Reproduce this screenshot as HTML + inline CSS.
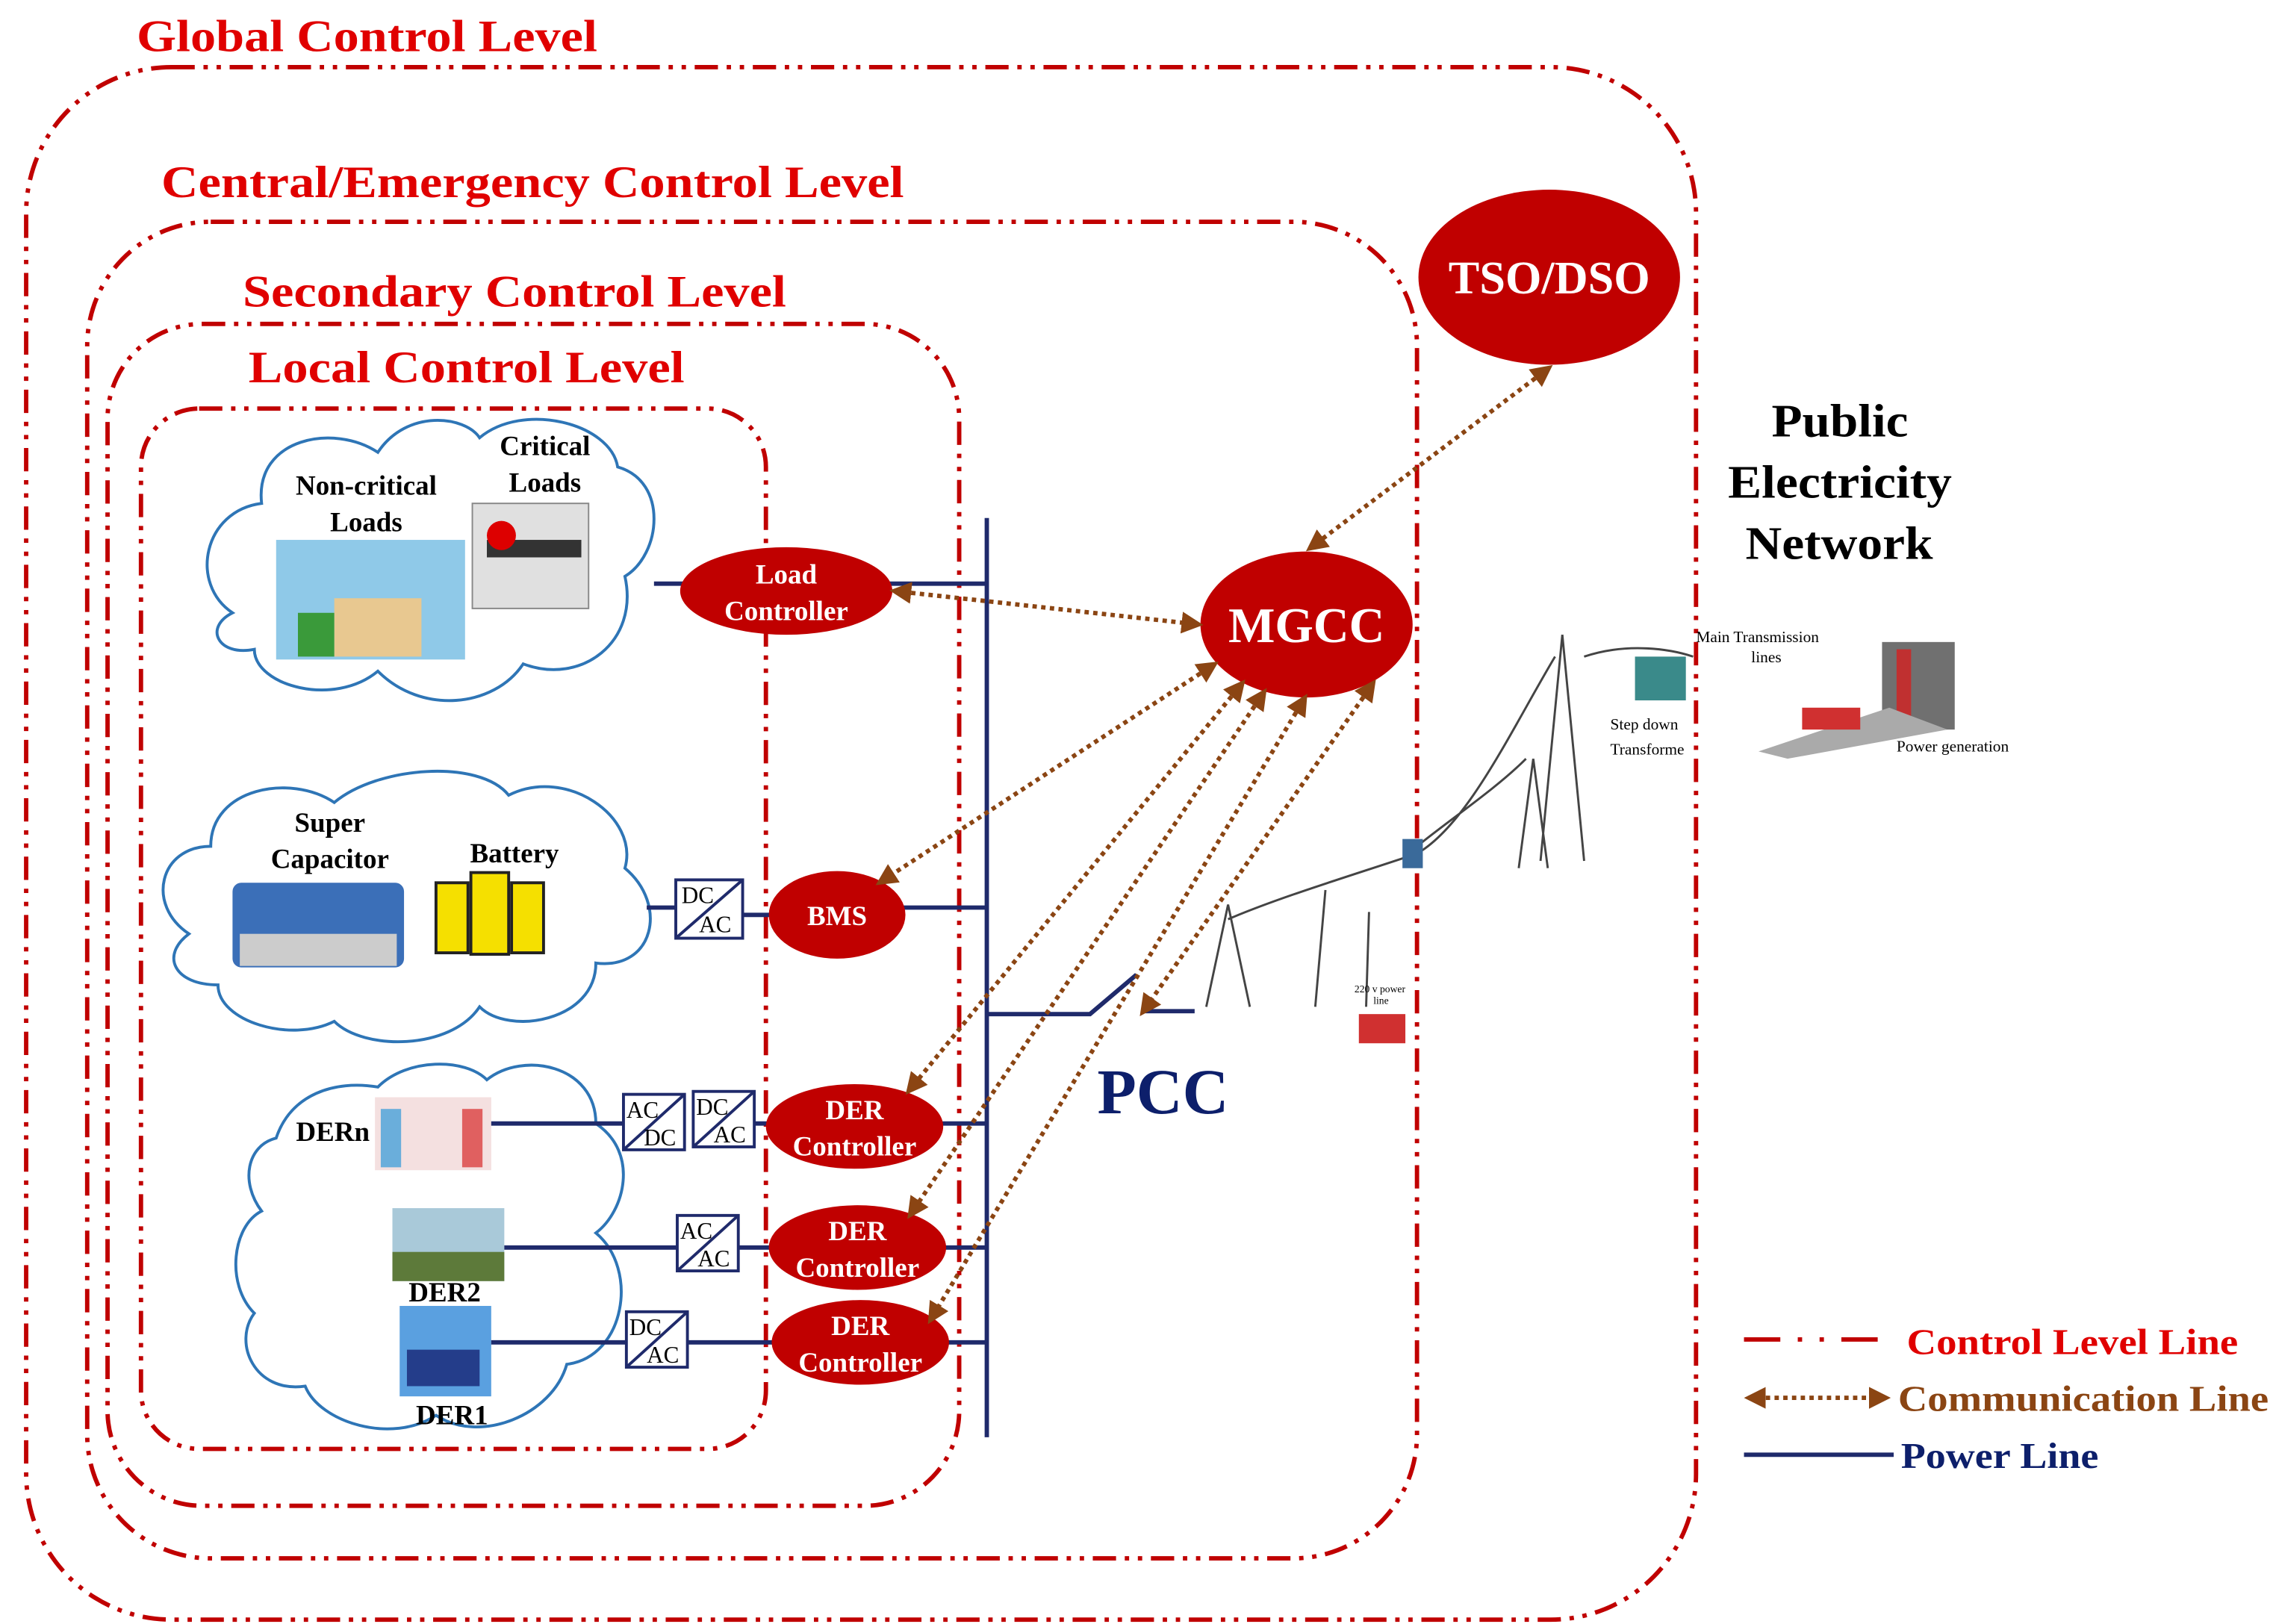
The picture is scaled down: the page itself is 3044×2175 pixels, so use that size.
<!DOCTYPE html>
<html><head><meta charset="utf-8"><style>html,body{margin:0;padding:0;background:#fff}svg{display:block}</style></head>
<body>
<svg width="3044" height="2175" viewBox="0 0 1564 1113" preserveAspectRatio="none" xmlns="http://www.w3.org/2000/svg" font-family="Liberation Serif, serif">
<defs>
<marker id="ah" viewBox="0 0 10 10" refX="8" refY="5" markerWidth="5" markerHeight="5" orient="auto-start-reverse"><path d="M0,0 L10,5 L0,10 z" fill="#8b4513"/></marker>
</defs>
<g fill="none" stroke="#c00000" stroke-width="3" stroke-dasharray="16,6,3,6,3,6">
<rect x="18" y="46" width="1149" height="1064" rx="100"/>
<rect x="60" y="152" width="915" height="916" rx="85"/>
<rect x="74" y="222" width="586" height="810" rx="65"/>
<rect x="97" y="280" width="430" height="713" rx="40"/>
</g>
<g fill="#e00000" font-weight="bold" font-size="31">
<text x="94" y="35" textLength="317" lengthAdjust="spacingAndGlyphs">Global Control Level</text>
<text x="111" y="135" textLength="511" lengthAdjust="spacingAndGlyphs">Central/Emergency Control Level</text>
<text x="167" y="210" textLength="374" lengthAdjust="spacingAndGlyphs">Secondary Control Level</text>
<text x="171" y="262" textLength="300" lengthAdjust="spacingAndGlyphs">Local Control Level</text>
</g>
<g font-weight="bold" font-size="32" fill="#000">
<text x="1219" y="299" textLength="94" lengthAdjust="spacingAndGlyphs">Public</text>
<text x="1189" y="341" textLength="154" lengthAdjust="spacingAndGlyphs">Electricity</text>
<text x="1201" y="383" textLength="129" lengthAdjust="spacingAndGlyphs">Network</text>
</g>
<g fill="#fff" stroke="#2e75b6" stroke-width="2">
<path d="M160,420 C130,400 140,350 180,345 C175,300 230,290 260,310 C280,280 320,285 330,300 C360,275 420,290 425,320 C460,330 455,380 430,395 C440,440 400,470 360,455 C340,485 290,490 260,460 C230,485 175,470 175,445 C150,450 140,430 160,420 Z"/>
<path d="M130,640 C100,620 110,580 145,580 C145,540 200,530 230,550 C260,525 330,520 350,545 C390,525 440,560 430,595 C460,620 450,665 410,660 C410,700 350,710 330,690 C310,720 250,720 230,700 C200,715 150,700 150,675 C120,675 110,655 130,640 Z"/>
<path d="M190,780 C200,750 230,740 260,745 C280,725 320,725 335,740 C360,720 410,730 410,770 C440,790 430,830 410,845 C440,870 430,930 390,935 C380,970 330,990 300,970 C270,990 220,975 210,950 C175,955 160,920 175,900 C155,880 160,840 180,830 C165,810 170,785 190,780 Z"/>
</g>
<rect x="190" y="370" width="130" height="82" fill="#8fc9e8"/>
<rect x="230" y="410" width="60" height="40" fill="#e8c890"/>
<rect x="205" y="420" width="25" height="30" fill="#3a9a3a"/>
<rect x="325" y="345" width="80" height="72" fill="#e0e0e0" stroke="#888"/>
<rect x="335" y="370" width="65" height="12" fill="#333"/>
<circle cx="345" cy="367" r="10" fill="#d00"/>
<rect x="160" y="605" width="118" height="58" rx="6" fill="#3b6fb8"/>
<rect x="165" y="640" width="108" height="22" fill="#ccc"/>
<rect x="300" y="605" width="22" height="48" fill="#f5e000" stroke="#222" stroke-width="2"/>
<rect x="324" y="598" width="26" height="56" fill="#f5e000" stroke="#222" stroke-width="2"/>
<rect x="352" y="605" width="22" height="48" fill="#f5e000" stroke="#222" stroke-width="2"/>
<rect x="258" y="752" width="80" height="50" fill="#f4e0e0"/>
<rect x="262" y="760" width="14" height="40" fill="#6aaedb"/>
<rect x="318" y="760" width="14" height="40" fill="#e06060"/>
<rect x="270" y="828" width="77" height="50" fill="#a9c9d9"/>
<rect x="270" y="858" width="77" height="20" fill="#5d7a3a"/>
<rect x="275" y="895" width="63" height="62" fill="#5aa0e0"/>
<rect x="280" y="925" width="50" height="25" fill="#243d8a"/>
<g font-weight="bold" font-size="19" text-anchor="middle">
<text x="252" y="339">Non-critical</text><text x="252" y="364">Loads</text>
<text x="375" y="312">Critical</text><text x="375" y="337">Loads</text>
<text x="227" y="570">Super</text><text x="227" y="595">Capacitor</text>
<text x="354" y="591">Battery</text>
<text x="229" y="782">DERn</text>
<text x="306" y="892">DER2</text>
<text x="311" y="976">DER1</text>
</g>
<g stroke="#1f2a6b" stroke-width="3" fill="none">
<line x1="679" y1="355" x2="679" y2="985"/>
<line x1="450" y1="400" x2="470" y2="400"/>
<line x1="612" y1="400" x2="679" y2="400"/>
<line x1="445" y1="622" x2="465" y2="622"/><line x1="512" y1="627" x2="532" y2="627"/>
<line x1="620" y1="622" x2="679" y2="622"/>
<line x1="338" y1="770" x2="429" y2="770"/><line x1="519" y1="770" x2="530" y2="770"/>
<line x1="646" y1="770" x2="679" y2="770"/>
<line x1="347" y1="855" x2="466" y2="855"/><line x1="508" y1="855" x2="532" y2="855"/>
<line x1="648" y1="855" x2="679" y2="855"/>
<line x1="338" y1="920" x2="431" y2="920"/><line x1="473" y1="920" x2="533" y2="920"/>
<line x1="650" y1="920" x2="679" y2="920"/>
<polyline points="679,695 750,695 782,668"/>
<line x1="788" y1="693" x2="822" y2="693"/>
</g>
<g fill="#fff" stroke="#1f2a6b" stroke-width="2" font-size="16" font-family="Liberation Serif, serif">
<g transform="translate(465,603)"><rect width="46" height="40"/><line x1="0" y1="40" x2="46" y2="0"/><text x="4" y="16" fill="#000" stroke="none">DC</text><text x="16" y="36" fill="#000" stroke="none">AC</text></g>
<g transform="translate(429,750)"><rect width="42" height="38"/><line x1="0" y1="38" x2="42" y2="0"/><text x="2" y="16" fill="#000" stroke="none">AC</text><text x="14" y="35" fill="#000" stroke="none">DC</text></g>
<g transform="translate(477,748)"><rect width="42" height="38"/><line x1="0" y1="38" x2="42" y2="0"/><text x="2" y="16" fill="#000" stroke="none">DC</text><text x="14" y="35" fill="#000" stroke="none">AC</text></g>
<g transform="translate(466,833)"><rect width="42" height="38"/><line x1="0" y1="38" x2="42" y2="0"/><text x="2" y="16" fill="#000" stroke="none">AC</text><text x="14" y="35" fill="#000" stroke="none">AC</text></g>
<g transform="translate(431,899)"><rect width="42" height="38"/><line x1="0" y1="38" x2="42" y2="0"/><text x="2" y="16" fill="#000" stroke="none">DC</text><text x="14" y="35" fill="#000" stroke="none">AC</text></g>
</g>
<g fill="#c00000">
<ellipse cx="1066" cy="190" rx="90" ry="60"/>
<ellipse cx="899" cy="428" rx="73" ry="50"/>
<ellipse cx="541" cy="405" rx="73" ry="30"/>
<ellipse cx="576" cy="627" rx="47" ry="30"/>
<ellipse cx="588" cy="772" rx="61" ry="29"/>
<ellipse cx="590" cy="855" rx="61" ry="29"/>
<ellipse cx="592" cy="920" rx="61" ry="29"/>
</g>
<g fill="#fff" font-weight="bold" text-anchor="middle">
<text x="1066" y="201" font-size="32">TSO/DSO</text>
<text x="899" y="440" font-size="34">MGCC</text>
<g font-size="19"><text x="541" y="400">Load</text><text x="541" y="425">Controller</text>
<text x="576" y="634">BMS</text>
<text x="588" y="767">DER</text><text x="588" y="792">Controller</text>
<text x="590" y="850">DER</text><text x="590" y="875">Controller</text>
<text x="592" y="915">DER</text><text x="592" y="940">Controller</text></g>
</g>
<text x="755" y="763" font-size="44" font-weight="bold" fill="#0d1f6b">PCC</text>
<g stroke="#8b4513" stroke-width="3" stroke-dasharray="3,3" marker-start="url(#ah)" marker-end="url(#ah)">
<line x1="1066" y1="252" x2="901" y2="376"/>
<line x1="615" y1="405" x2="825" y2="428"/>
<line x1="836" y1="455" x2="605" y2="605"/>
<line x1="855" y1="468" x2="625" y2="748"/>
<line x1="870" y1="474" x2="626" y2="833"/>
<line x1="898" y1="478" x2="640" y2="905"/>
<line x1="945" y1="468" x2="786" y2="694"/>
</g>
<g stroke="#444" stroke-width="1.5" fill="none">
<path d="M1075,435 L1060,590 M1075,435 L1090,590 M1055,520 L1045,595 M1055,520 L1065,595"/>
<path d="M975,580 C1000,560 1030,540 1050,520 M975,585 C1010,565 1040,500 1070,450 M1090,450 C1120,440 1150,445 1165,450"/>
<path d="M830,690 L845,620 L860,690 M905,690 L912,610 M940,690 L942,625 M845,630 C880,615 930,600 975,585"/>
</g>
<rect x="1125" y="450" width="35" height="30" fill="#3a8a8a"/>
<rect x="1295" y="440" width="50" height="60" fill="#707070"/>
<rect x="1305" y="445" width="10" height="55" fill="#c03030"/>
<path d="M1210,515 L1300,485 L1340,500 L1230,520 Z" fill="#aaa"/>
<rect x="1240" y="485" width="40" height="15" fill="#d03030"/>
<rect x="935" y="695" width="32" height="20" fill="#d03030"/>
<rect x="965" y="575" width="14" height="20" fill="#3a6a9a"/>
<g font-size="11" fill="#000">
<text x="1167" y="440">Main Transmission</text><text x="1205" y="454">lines</text>
<text x="1108" y="500">Step down</text><text x="1108" y="517">Transforme</text>
<text x="1305" y="515">Power generation</text>
<text x="932" y="680" font-size="7">220 v power</text><text x="945" y="688" font-size="7">line</text>
</g>
<line x1="1200" y1="918" x2="1300" y2="918" stroke="#c00000" stroke-width="3" stroke-dasharray="25,12,3,12,3,12"/>
<line x1="1203" y1="958" x2="1298" y2="958" stroke="#8b4513" stroke-width="3" stroke-dasharray="3,3" marker-start="url(#ah)" marker-end="url(#ah)"/>
<line x1="1200" y1="997" x2="1303" y2="997" stroke="#1f2a6b" stroke-width="3"/>
<g font-weight="bold" font-size="25">
<text x="1312" y="928" fill="#e00000" textLength="228" lengthAdjust="spacingAndGlyphs">Control Level Line</text>
<text x="1306" y="967" fill="#8b4513" textLength="255" lengthAdjust="spacingAndGlyphs">Communication Line</text>
<text x="1308" y="1006" fill="#0d1f6b" textLength="136" lengthAdjust="spacingAndGlyphs">Power Line</text>
</g>
</svg>
</body></html>
